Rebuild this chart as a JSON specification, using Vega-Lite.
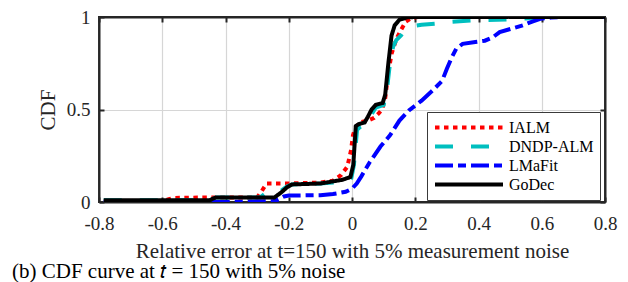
{
  "$schema": "https://vega.github.io/schema/vega-lite/v6.json",
  "width": 506,
  "height": 185,
  "autosize": {"type": "none"},
  "padding": {"left": 99, "top": 17, "right": 23, "bottom": 80},
  "background": "white",
  "config": {
    "view": {"stroke": "#262626", "strokeWidth": 2},
    "font": "Liberation Serif",
    "style": {
      "guide-label": {"font": "Liberation Serif"},
      "guide-title": {"font": "Liberation Serif"}
    },
    "axis": {
      "labelFont": "Liberation Serif",
      "labelFontSize": 19,
      "labelColor": "#262626",
      "titleFont": "Liberation Serif",
      "titleFontSize": 21,
      "titleFontWeight": "normal",
      "titleColor": "#262626",
      "domainColor": "#262626",
      "domainWidth": 2,
      "tickColor": "#262626",
      "tickWidth": 2,
      "tickSize": -5,
      "gridColor": "#d6d6d6",
      "gridWidth": 1.2
    },
    "legend": {
      "labelFont": "Liberation Serif",
      "labelFontSize": 16,
      "labelColor": "black",
      "symbolType": "stroke",
      "symbolSize": 4624,
      "symbolStrokeWidth": 4,
      "clipHeight": 19,
      "rowPadding": 0,
      "labelOffset": 4,
      "padding": 6,
      "strokeColor": "#3a3a3a",
      "fillColor": "white",
      "title": null
    }
  },
  "title": {
    "text": "(b) CDF curve at 𝑡 = 150 with 5% noise",
    "orient": "bottom",
    "anchor": "start",
    "frame": "group",
    "font": "Liberation Serif",
    "fontSize": 21,
    "fontWeight": "normal",
    "color": "black",
    "offset": 0,
    "dx": -87
  },
  "data": {
    "values": [
      {"m": "IALM", "x": -0.785, "y": 0.005},
      {"m": "IALM", "x": -0.6, "y": 0.005},
      {"m": "IALM", "x": -0.58, "y": 0.015},
      {"m": "IALM", "x": -0.56, "y": 0.022},
      {"m": "IALM", "x": -0.45, "y": 0.025},
      {"m": "IALM", "x": -0.3, "y": 0.025},
      {"m": "IALM", "x": -0.285, "y": 0.06},
      {"m": "IALM", "x": -0.27, "y": 0.1},
      {"m": "IALM", "x": -0.2, "y": 0.1},
      {"m": "IALM", "x": -0.1, "y": 0.105},
      {"m": "IALM", "x": -0.06, "y": 0.115},
      {"m": "IALM", "x": -0.035, "y": 0.145},
      {"m": "IALM", "x": -0.015, "y": 0.19},
      {"m": "IALM", "x": -0.003, "y": 0.28},
      {"m": "IALM", "x": 0.003, "y": 0.36},
      {"m": "IALM", "x": 0.01, "y": 0.4},
      {"m": "IALM", "x": 0.025, "y": 0.43},
      {"m": "IALM", "x": 0.05, "y": 0.44},
      {"m": "IALM", "x": 0.07, "y": 0.455},
      {"m": "IALM", "x": 0.085, "y": 0.48},
      {"m": "IALM", "x": 0.095, "y": 0.5},
      {"m": "IALM", "x": 0.105, "y": 0.56},
      {"m": "IALM", "x": 0.115, "y": 0.7},
      {"m": "IALM", "x": 0.125, "y": 0.8},
      {"m": "IALM", "x": 0.14, "y": 0.88},
      {"m": "IALM", "x": 0.155, "y": 0.93},
      {"m": "IALM", "x": 0.17, "y": 0.975},
      {"m": "IALM", "x": 0.19, "y": 0.997},
      {"m": "IALM", "x": 0.21, "y": 1.0},
      {"m": "IALM", "x": 0.8, "y": 1.0},
      {"m": "DNDP-ALM", "x": -0.785, "y": 0.01},
      {"m": "DNDP-ALM", "x": -0.45, "y": 0.01},
      {"m": "DNDP-ALM", "x": -0.43, "y": 0.025},
      {"m": "DNDP-ALM", "x": -0.29, "y": 0.025},
      {"m": "DNDP-ALM", "x": -0.275, "y": 0.045},
      {"m": "DNDP-ALM", "x": -0.25, "y": 0.045},
      {"m": "DNDP-ALM", "x": -0.225, "y": 0.06},
      {"m": "DNDP-ALM", "x": -0.205, "y": 0.085},
      {"m": "DNDP-ALM", "x": -0.19, "y": 0.095},
      {"m": "DNDP-ALM", "x": -0.1, "y": 0.1},
      {"m": "DNDP-ALM", "x": -0.06, "y": 0.105},
      {"m": "DNDP-ALM", "x": -0.02, "y": 0.12},
      {"m": "DNDP-ALM", "x": -0.002, "y": 0.13},
      {"m": "DNDP-ALM", "x": 0.006, "y": 0.2},
      {"m": "DNDP-ALM", "x": 0.016, "y": 0.39},
      {"m": "DNDP-ALM", "x": 0.025, "y": 0.405},
      {"m": "DNDP-ALM", "x": 0.045, "y": 0.42},
      {"m": "DNDP-ALM", "x": 0.06, "y": 0.47},
      {"m": "DNDP-ALM", "x": 0.075, "y": 0.51},
      {"m": "DNDP-ALM", "x": 0.1, "y": 0.525},
      {"m": "DNDP-ALM", "x": 0.11, "y": 0.6},
      {"m": "DNDP-ALM", "x": 0.12, "y": 0.75},
      {"m": "DNDP-ALM", "x": 0.13, "y": 0.84},
      {"m": "DNDP-ALM", "x": 0.14, "y": 0.875},
      {"m": "DNDP-ALM", "x": 0.155, "y": 0.9},
      {"m": "DNDP-ALM", "x": 0.17, "y": 0.935},
      {"m": "DNDP-ALM", "x": 0.19, "y": 0.95},
      {"m": "DNDP-ALM", "x": 0.22, "y": 0.958},
      {"m": "DNDP-ALM", "x": 0.27, "y": 0.965},
      {"m": "DNDP-ALM", "x": 0.31, "y": 0.974},
      {"m": "DNDP-ALM", "x": 0.38, "y": 0.982},
      {"m": "DNDP-ALM", "x": 0.49, "y": 0.987},
      {"m": "DNDP-ALM", "x": 0.55, "y": 0.992},
      {"m": "DNDP-ALM", "x": 0.62, "y": 1.0},
      {"m": "DNDP-ALM", "x": 0.8, "y": 1.0},
      {"m": "LMaFit", "x": -0.785, "y": 0.0},
      {"m": "LMaFit", "x": -0.41, "y": 0.0},
      {"m": "LMaFit", "x": -0.25, "y": 0.004},
      {"m": "LMaFit", "x": -0.235, "y": 0.012},
      {"m": "LMaFit", "x": -0.215, "y": 0.03},
      {"m": "LMaFit", "x": -0.2, "y": 0.035},
      {"m": "LMaFit", "x": -0.1, "y": 0.037},
      {"m": "LMaFit", "x": -0.06, "y": 0.043},
      {"m": "LMaFit", "x": -0.02, "y": 0.055},
      {"m": "LMaFit", "x": 0.0, "y": 0.072},
      {"m": "LMaFit", "x": 0.015, "y": 0.1},
      {"m": "LMaFit", "x": 0.03, "y": 0.14},
      {"m": "LMaFit", "x": 0.056, "y": 0.215},
      {"m": "LMaFit", "x": 0.09, "y": 0.3},
      {"m": "LMaFit", "x": 0.12, "y": 0.36},
      {"m": "LMaFit", "x": 0.15, "y": 0.44},
      {"m": "LMaFit", "x": 0.18, "y": 0.495},
      {"m": "LMaFit", "x": 0.22, "y": 0.548},
      {"m": "LMaFit", "x": 0.255, "y": 0.603},
      {"m": "LMaFit", "x": 0.285, "y": 0.655},
      {"m": "LMaFit", "x": 0.3, "y": 0.72},
      {"m": "LMaFit", "x": 0.315, "y": 0.78},
      {"m": "LMaFit", "x": 0.33, "y": 0.83},
      {"m": "LMaFit", "x": 0.35, "y": 0.855},
      {"m": "LMaFit", "x": 0.39, "y": 0.865},
      {"m": "LMaFit", "x": 0.42, "y": 0.872},
      {"m": "LMaFit", "x": 0.445, "y": 0.89},
      {"m": "LMaFit", "x": 0.467, "y": 0.918},
      {"m": "LMaFit", "x": 0.51, "y": 0.94},
      {"m": "LMaFit", "x": 0.54, "y": 0.955},
      {"m": "LMaFit", "x": 0.57, "y": 0.975},
      {"m": "LMaFit", "x": 0.595, "y": 0.99},
      {"m": "LMaFit", "x": 0.63, "y": 0.997},
      {"m": "LMaFit", "x": 0.66, "y": 1.0},
      {"m": "LMaFit", "x": 0.8, "y": 1.0},
      {"m": "GoDec", "x": -0.785, "y": 0.01},
      {"m": "GoDec", "x": -0.45, "y": 0.01},
      {"m": "GoDec", "x": -0.43, "y": 0.025},
      {"m": "GoDec", "x": -0.245, "y": 0.025},
      {"m": "GoDec", "x": -0.225, "y": 0.05},
      {"m": "GoDec", "x": -0.205, "y": 0.08},
      {"m": "GoDec", "x": -0.19, "y": 0.095},
      {"m": "GoDec", "x": -0.1, "y": 0.1},
      {"m": "GoDec", "x": -0.065, "y": 0.11},
      {"m": "GoDec", "x": -0.03, "y": 0.12},
      {"m": "GoDec", "x": -0.005, "y": 0.135},
      {"m": "GoDec", "x": 0.004, "y": 0.2},
      {"m": "GoDec", "x": 0.012, "y": 0.41},
      {"m": "GoDec", "x": 0.02, "y": 0.42},
      {"m": "GoDec", "x": 0.04, "y": 0.43},
      {"m": "GoDec", "x": 0.05, "y": 0.46},
      {"m": "GoDec", "x": 0.062, "y": 0.5},
      {"m": "GoDec", "x": 0.075, "y": 0.525},
      {"m": "GoDec", "x": 0.097, "y": 0.535},
      {"m": "GoDec", "x": 0.105, "y": 0.58},
      {"m": "GoDec", "x": 0.115, "y": 0.75},
      {"m": "GoDec", "x": 0.125, "y": 0.9},
      {"m": "GoDec", "x": 0.135, "y": 0.955},
      {"m": "GoDec", "x": 0.15, "y": 0.985},
      {"m": "GoDec", "x": 0.175, "y": 0.998},
      {"m": "GoDec", "x": 0.2, "y": 1.0},
      {"m": "GoDec", "x": 0.8, "y": 1.0}
    ]
  },
  "layer": [
    {
      "mark": {"type": "line", "strokeWidth": 4, "clip": true},
      "encoding": {
        "x": {
          "field": "x", "type": "quantitative",
          "scale": {"domain": [-0.8, 0.8], "nice": false},
          "axis": {
            "orient": "bottom",
            "title": "Relative error at t=150 with 5% measurement noise",
            "values": [-0.8, -0.6, -0.4, -0.2, 0, 0.2, 0.4, 0.6, 0.8],
            "labelExpr": "datum.value == 0 ? '0' : (datum.value < 0 ? '-' : '') + format(abs(datum.value), '.1f')",
            "labelFont": "Liberation Serif",
            "titleFont": "Liberation Serif",
            "labelPadding": 17,
            "titlePadding": 7,
            "grid": true,
            "labelFlush": false
          }
        },
        "y": {
          "field": "y", "type": "quantitative",
          "scale": {"domain": [0, 1], "nice": false},
          "axis": {
            "orient": "left",
            "title": "CDF",
            "values": [0, 0.5, 1],
            "labelExpr": "datum.value == 0 ? '0' : (datum.value == 1 ? '1' : '0.5')",
            "labelFont": "Liberation Serif",
            "titleFont": "Liberation Serif",
            "labelPadding": 14,
            "titlePadding": 8,
            "grid": true,
            "labelFlush": false
          }
        },
        "color": {
          "field": "m", "type": "nominal",
          "scale": {"domain": ["IALM", "DNDP-ALM", "LMaFit", "GoDec"], "range": ["#ff0000", "#00bfbf", "#0000ff", "#000000"]},
          "legend": {"orient": "none", "legendX": 328, "legendY": 95, "labelFont": "Liberation Serif"}
        },
        "strokeDash": {
          "field": "m", "type": "nominal",
          "scale": {"domain": ["IALM", "DNDP-ALM", "LMaFit", "GoDec"], "range": [[4.5, 4.5], [18, 18], [18, 5, 8, 5], [1, 0]]},
          "legend": {"orient": "none", "legendX": 328, "legendY": 95, "labelFont": "Liberation Serif"}
        }
      }
    },
    {
      "mark": {"type": "line", "opacity": 0},
      "encoding": {
        "x": {
          "field": "x", "type": "quantitative",
          "axis": {"orient": "top", "title": null, "labels": false, "grid": false, "values": [-0.8, -0.6, -0.4, -0.2, 0, 0.2, 0.4, 0.6, 0.8]}
        },
        "y": {
          "field": "y", "type": "quantitative",
          "axis": {"orient": "right", "title": null, "labels": false, "grid": false, "values": [0, 0.5, 1]}
        }
      }
    }
  ]
}
